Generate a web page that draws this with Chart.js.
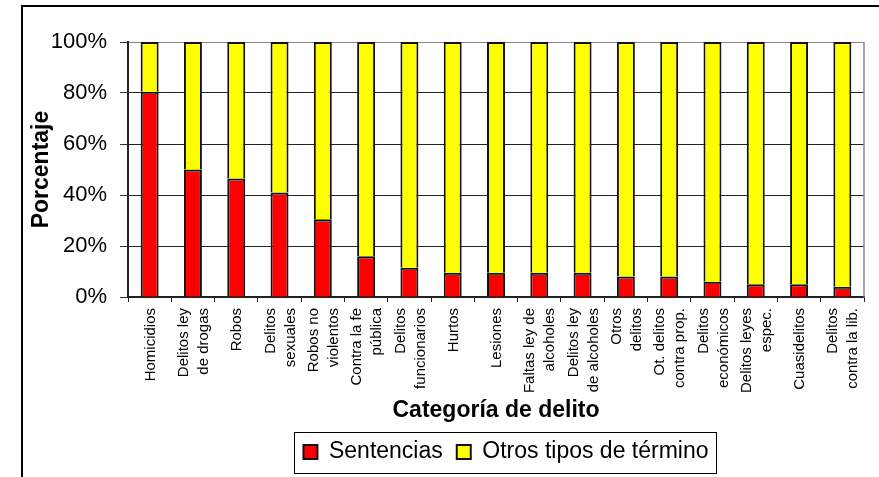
<!DOCTYPE html>
<html>
<head>
<meta charset="utf-8">
<script src="https://cdn.jsdelivr.net/npm/chart.js@4.4.1/dist/chart.umd.min.js"></script>
<style>
  html, body { margin: 0; padding: 0; background: #fff; overflow: hidden; }
  #caja { position: relative; width: 879px; height: 477px; }
  #marco { position: absolute; left: 21px; top: 5px; right: -20px; bottom: -20px; border: 2px solid #000; pointer-events: none; }
</style>
</head>
<body>
<div id="caja">
  <canvas id="grafico" width="879" height="477"></canvas>
  <div id="marco"></div>
</div>
<script>
const categorias = [
  ['Homicidios'], ['Delitos ley', 'de drogas'], ['Robos'], ['Delitos', 'sexuales'],
  ['Robos no', 'violentos'], ['Contra la fe', 'pública'], ['Delitos', 'funcionarios'],
  ['Hurtos'], ['Lesiones'], ['Faltas ley de', 'alcoholes'], ['Delitos ley', 'de alcoholes'],
  ['Otros', 'delitos'], ['Ot. delitos', 'contra prop.'], ['Delitos', 'económicos'],
  ['Delitos leyes', 'espec.'], ['Cuasidelitos'], ['Delitos', 'contra la lib.']
];
const sentencias = [80.5, 50, 46.5, 41, 30.5, 16, 11.5, 9.5, 9.5, 9.5, 9.5, 8, 8, 6, 5, 5, 4];
const otrosTerminos = [19.5, 50, 53.5, 59, 69.5, 84, 88.5, 90.5, 90.5, 90.5, 90.5, 92, 92, 94, 95, 95, 96];
const ticksY = [0, 20, 40, 60, 80, 100];

const fuente = '"Liberation Sans", Arial, sans-serif';

// etiquetas del eje x dibujadas a mano para centrar las de dos lineas
const etiquetasX = {
  id: 'etiquetasX',
  afterDraw(chart) {
    const ctx = chart.ctx;
    const escala = chart.scales.x;
    ctx.save();
    ctx.fillStyle = '#000';
    ctx.font = '15px "Liberation Sans", Arial, sans-serif';
    ctx.textAlign = 'right';
    ctx.textBaseline = 'middle';
    categorias.forEach((lineas, i) => {
      const centro = escala.getPixelForTick(i) + 1;
      lineas.forEach((texto, j) => {
        const x = centro + (j - (lineas.length - 1) / 2) * 20;
        ctx.save();
        ctx.translate(x, chart.chartArea.bottom + 11);
        ctx.rotate(-Math.PI / 2);
        ctx.fillText(texto, 0, 0);
        ctx.restore();
      });
    });
    ctx.restore();
  }
};

// borde derecho del area y recuadro de la leyenda
const bordes = {
  id: 'bordes',
  afterLayout(chart) {
    chart.legend.left += 10;
    chart.legend.right += 10;
  },
  afterDraw(chart) {
    const ctx = chart.ctx;
    const area = chart.chartArea;
    ctx.save();
    ctx.strokeStyle = '#888';
    ctx.lineWidth = 1.5;
    ctx.beginPath();
    ctx.moveTo(area.right, area.top);
    ctx.lineTo(area.right, area.bottom);
    ctx.stroke();

    const cajas = chart.legend.legendHitBoxes;
    if (cajas && cajas.length) {
      const izq = cajas[0].left - 9;
      const ultima = cajas[cajas.length - 1];
      const der = ultima.left + ultima.width + 8;
      const centroY = cajas[0].top + cajas[0].height / 2;
      ctx.strokeStyle = '#000';
      ctx.lineWidth = 1;
      ctx.strokeRect(Math.round(izq) + 0.5, Math.round(centroY - 20) + 0.5, Math.round(der - izq), 41);
    }
    ctx.restore();
  }
};

const grafico = new Chart(document.getElementById('grafico'), {
  type: 'bar',
  data: {
    labels: categorias,
    datasets: [{
      label: 'Sentencias',
      data: sentencias,
      backgroundColor: '#ff0000',
      borderColor: '#111',
      borderWidth: 2
    }, {
      label: 'Otros tipos de término',
      data: otrosTerminos,
      backgroundColor: '#ffff00',
      borderColor: '#111',
      borderWidth: 2
    }]
  },
  options: {
    responsive: false,
    animation: false,
    layout: { padding: { left: 22, top: 42, right: 15, bottom: 3.5 } },
    datasets: { bar: { barPercentage: 0.415, categoryPercentage: 1 } },
    plugins: {
      tooltip: { enabled: false },
      legend: {
        position: 'bottom',
        fullSize: false,
        labels: {
          color: '#000',
          font: { family: fuente, size: 23 },
          boxWidth: 14,
          boxHeight: 14,
          padding: 14
        }
      }
    },
    scales: {
      x: {
        stacked: true,
        afterFit: (escala) => { escala.height = 129.5; },
        border: { color: '#222', width: 1.5 },
        grid: { drawOnChartArea: false, drawTicks: true, tickLength: 5, tickColor: '#222', offset: true },
        ticks: { display: false, autoSkip: false },
        title: {
          display: true,
          text: 'Categoría de delito',
          color: '#000',
          font: { family: fuente, size: 23, weight: 'bold' },
          padding: { top: 0, bottom: 2 }
        }
      },
      y: {
        stacked: true,
        min: 0,
        max: 100,
        afterFit: (escala) => { escala.width = 106; },
        afterBuildTicks: (escala) => { escala.ticks = ticksY.map(v => ({ value: v })); },
        border: { color: '#222', width: 2 },
        grid: {
          color: (c) => c.tick && c.tick.value === 100 ? '#888' : '#222',
          lineWidth: 1,
          tickLength: 8,
          tickColor: '#333'
        },
        ticks: {
          color: '#000',
          padding: 13,
          font: { family: fuente, size: 22 },
          callback: (v) => v + '%'
        },
        title: {
          display: true,
          text: 'Porcentaje',
          color: '#000',
          font: { family: fuente, size: 23, weight: 'bold' },
          padding: { top: 6, bottom: 0 }
        }
      }
    }
  },
  plugins: [etiquetasX, bordes]
});
</script>
</body>
</html>
